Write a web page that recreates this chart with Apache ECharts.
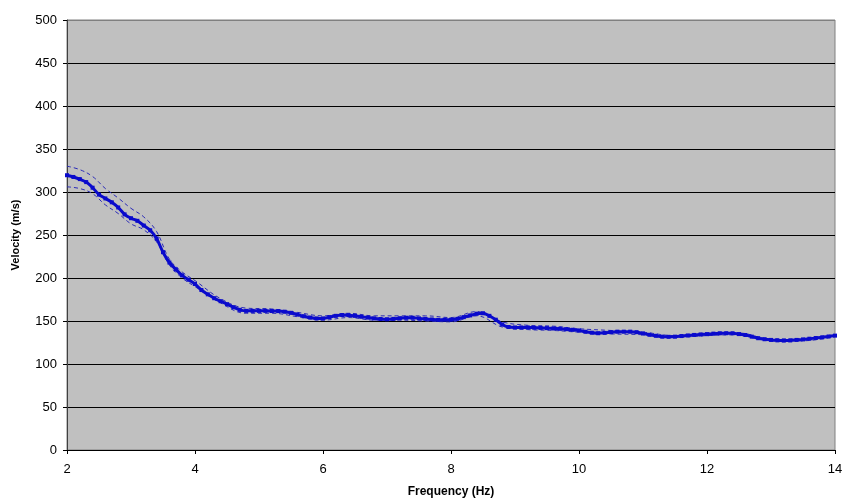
<!DOCTYPE html>
<html>
<head>
<meta charset="utf-8">
<script src="https://cdn.jsdelivr.net/npm/echarts@6/dist/echarts.min.js"></script>
<style>html,body{margin:0;padding:0;background:#fff}#c{width:845px;height:500px}</style>
</head>
<body>
<div id="c"></div>
<script>
var freq = [2.0,2.1,2.2,2.3,2.4,2.5,2.6,2.7,2.8,2.9,3.0,3.1,3.2,3.3,3.4,3.5,3.6,3.7,3.8,3.9,
4.0,4.1,4.2,4.3,4.4,4.5,4.6,4.7,4.8,4.9,5.0,5.1,5.2,5.3,5.4,5.5,5.6,5.7,5.8,5.9,
6.0,6.1,6.2,6.3,6.4,6.5,6.6,6.7,6.8,6.9,7.0,7.1,7.2,7.3,7.4,7.5,7.6,7.7,7.8,7.9,
8.0,8.1,8.2,8.3,8.4,8.5,8.6,8.7,8.8,8.9,9.0,9.1,9.2,9.3,9.4,9.5,9.6,9.7,9.8,9.9,
10.0,10.1,10.2,10.3,10.4,10.5,10.6,10.7,10.8,10.9,11.0,11.1,11.2,11.3,11.4,11.5,11.6,11.7,11.8,11.9,
12.0,12.1,12.2,12.3,12.4,12.5,12.6,12.7,12.8,12.9,13.0,13.1,13.2,13.3,13.4,13.5,13.6,13.7,13.8,13.9,14.0];
var velocity = [319.5,317.5,315,311.5,305,297,292.5,288,282,274,269.5,266.5,261,255.5,246,230,218,210,203,198,
193,186,181,176.5,173,169.5,166,163,161.8,161.8,161.8,161.8,161.6,161.5,160.8,159.5,157.5,155.5,154,153,
153,154.5,156,157,156.8,156,155,154,153,152.3,152,152.5,153.2,153.8,153.8,153,152.5,151.8,151.3,151.5,
151.5,152.5,154.5,156.5,158.5,159,156,151.5,146,143,142.5,142.5,142.5,142.2,142,141.7,141.3,141,140.5,139.8,
139,137.5,136.4,135.8,136.2,137,137.6,137.6,137.6,137,135.5,134,132.8,131.8,131.6,131.8,132.5,133.2,133.8,134.3,
134.7,135.3,135.7,135.8,135.7,134.8,133.7,131.8,130,128.8,128,127.5,127.2,127.4,128,128.6,129.4,130.2,131,132,133];
var boundFreq = [2.0,2.2,2.4,2.6,2.8,3.0,3.2,3.4,3.6,3.8,4.0,4.4,4.8,5.2,5.6,6.0,6.4,6.8,7.2,7.6,8.0,8.4,8.8,9.2,9.6,10.0,10.5,11.0,11.5,12.0,12.5,13.0,13.5,14.0];
var upper = [330,326,318,304,293,281,271,254,222,207,197,176,165,164,160,156,159,156,156,156,154,161,149,145,144,141,139,137,133,136,136,129,129,134];
var lower = [306,304,298,285,275,263,256,242,215,200,190,171,159,159,155,151,154,151,151,150,149,156,143,140,139,137,135,134,131,133,134,127,127,132];
var yTicks = [0,50,100,150,200,250,300,350,400,450,500];
var xTicks = [2,4,6,8,10,12,14];

function pairs(xs, ys){ return xs.map(function(x,i){ return [x, ys[i]]; }); }

var gridColors = yTicks.map(function(v,i){ return i === yTicks.length-1 ? '#808080' : '#000000'; });

var chart = echarts.init(document.getElementById('c'), null, {renderer:'canvas'});
var font = 'Liberation Sans, Arial, sans-serif';
chart.setOption({
  animation:false,
  backgroundColor:'#ffffff',
  grid:{left:67,right:10,top:20,bottom:50,show:true,containLabel:false,outerBoundsMode:'none',
    backgroundColor:'#C0C0C0',borderColor:'#808080',borderWidth:1},
  xAxis:{type:'value',min:xTicks[0],max:xTicks[xTicks.length-1],interval:2,
    name:'Frequency (Hz)',nameLocation:'middle',nameGap:36,
    nameTextStyle:{fontFamily:font,fontSize:12,fontWeight:'bold',color:'#000'},
    axisLine:{show:true,onZero:false,lineStyle:{color:'#000',width:1}},
    axisTick:{show:true,length:4,lineStyle:{color:'#000'}},
    axisLabel:{fontFamily:font,fontSize:13,color:'#000',margin:13},
    splitLine:{show:false}},
  yAxis:{type:'value',min:yTicks[0],max:yTicks[yTicks.length-1],interval:50,
    name:'Velocity (m/s)',nameLocation:'middle',nameGap:46,nameRotate:90,
    nameTextStyle:{fontFamily:font,fontSize:11,fontWeight:'bold',color:'#000'},
    axisLine:{show:true,lineStyle:{color:'#404040',width:1}},
    axisTick:{show:true,length:4,lineStyle:{color:'#000'}},
    axisLabel:{fontFamily:font,fontSize:13,color:'#000',margin:10},
    splitLine:{show:true,lineStyle:{color:gridColors,width:1}}},
  series:[
    {type:'line',data:pairs(boundFreq,upper),smooth:0.4,showSymbol:false,
     lineStyle:{color:'#2a2ab8',width:1,type:[4,3]},z:2},
    {type:'line',data:pairs(boundFreq,lower),smooth:0.4,showSymbol:false,
     lineStyle:{color:'#2a2ab8',width:1,type:[4,3]},z:2},
    {type:'line',data:pairs(freq,velocity),smooth:0.3,symbol:'rect',symbolSize:4,showSymbol:true,
     itemStyle:{color:'#0a0acc'},lineStyle:{color:'#0a0acc',width:3},z:3}
  ]
});
</script>
</body>
</html>
